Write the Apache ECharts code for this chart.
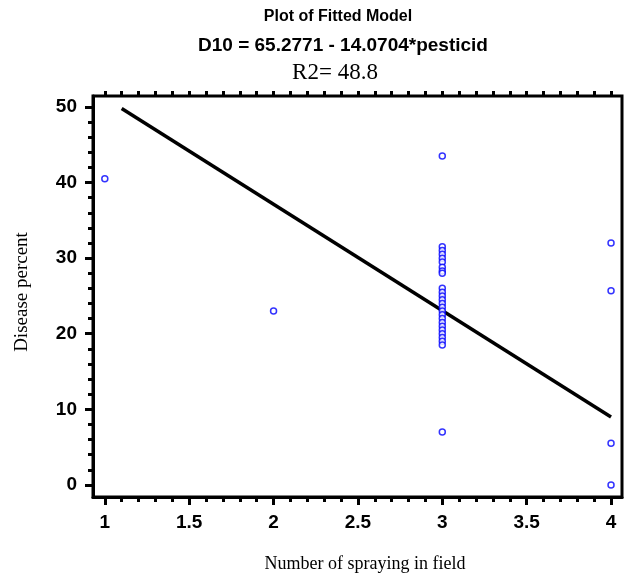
<!DOCTYPE html>
<html><head><meta charset="utf-8">
<script src="https://cdn.jsdelivr.net/npm/echarts@6/dist/echarts.min.js"></script>
<style>html,body{margin:0;padding:0;background:#fff}#c{width:627px;height:579px}</style>
</head><body><div id="c"></div>
<script>
// Observed data: [spraying count, disease percent]
const sprayX1 = [1];
const disease1 = [40.5];
const sprayX2 = [2];
const disease2 = [23];
const disease3 = [43.5, 31.5, 31, 30.5, 30, 29.5, 28.8, 28.3, 28, 26, 25.5, 25, 24.5, 24, 23.5, 23, 22.5, 22, 21.5, 21, 20.5, 20, 19.5, 19, 18.5, 7];
const disease4 = [32, 25.7, 5.5, 0];
// Fitted model line endpoints
const fitX = [1.1, 4];
const intercept = 65.2771, slope = -14.0704;
// Tick labels
const xTicks = [1, 1.5, 2, 2.5, 3, 3.5, 4];
const yTicks = [0, 10, 20, 30, 40, 50];

const points = [];
sprayX1.forEach((x,i)=>points.push([x, disease1[i]]));
sprayX2.forEach((x,i)=>points.push([x, disease2[i]]));
disease3.forEach(v=>points.push([3, v]));
disease4.forEach(v=>points.push([4, v]));
const line = fitX.map(x=>[x, intercept + slope*x]);

const xMin = 0.93, xMax = 4.065, yMin = -1.6, yMax = 51.45;
const xMinor = [], yMinor = [];
for (let k = 10; k <= 40; k++) { if (k % 5) xMinor.push(k/10); }
const xTop = []; for (let k = 10; k <= 40; k++) xTop.push(k/10);
for (let k = 0; k <= 50; k += 2) { if (k % 10) yMinor.push(k); }

const sans = 'Liberation Sans', serif = 'Liberation Serif';
const chart = echarts.init(document.getElementById('c'), null, {renderer:'canvas'});
const hidden = {show:false};
chart.setOption({
  animation:false,
  backgroundColor:'#fff',
  grid:{left:93, top:96, right:5, bottom:82, show:true, borderColor:'#000', borderWidth:3, backgroundColor:'transparent'},
  graphic:[
    {type:'text', style:{x:338, y:9, text:'Plot of Fitted Model', font:'bold 16px '+sans, fill:'#000', textAlign:'center', textVerticalAlign:'top'}},
    {type:'text', style:{x:343, y:36, text:'D10 = 65.2771 - 14.0704*pesticid', font:'bold 19px '+sans, fill:'#000', textAlign:'center', textVerticalAlign:'top'}},
    {type:'text', style:{x:335, y:61, text:'R2= 48.8', font:'23px '+serif, fill:'#000', textAlign:'center', textVerticalAlign:'top'}},
    {type:'text', style:{x:365, y:555, text:'Number of spraying in field', font:'18px '+serif, fill:'#000', textAlign:'center', textVerticalAlign:'top'}},
    {type:'text', rotation:Math.PI/2, x:22, y:292, style:{x:0, y:0, text:'Disease percent', font:'19px '+serif, fill:'#000', textAlign:'center', textVerticalAlign:'middle'}}
  ],
  xAxis:[
    {type:'value', position:'bottom', min:xMin, max:xMax,
     axisLine:{show:true, onZero:false, lineStyle:{color:'#000', width:3}},
     axisTick:{show:true, customValues:xTicks, length:8, lineStyle:{color:'#000', width:3}},
     axisLabel:{show:true, customValues:xTicks, margin:16, color:'#000', fontFamily:sans, fontWeight:'bold', fontSize:19},
     splitLine:hidden},
    {type:'value', position:'bottom', min:xMin, max:xMax,
     axisLine:{show:false, onZero:false}, axisTick:{show:true, customValues:xMinor, length:5, lineStyle:{color:'#000', width:3}},
     axisLabel:hidden, splitLine:hidden},
    {type:'value', position:'top', min:xMin, max:xMax,
     axisLine:{show:false, onZero:false}, axisTick:{show:true, customValues:xTop, length:5, lineStyle:{color:'#000', width:3}},
     axisLabel:hidden, splitLine:hidden}
  ],
  yAxis:[
    {type:'value', position:'left', min:yMin, max:yMax,
     axisLine:{show:true, onZero:false, lineStyle:{color:'#000', width:3}},
     axisTick:{show:true, customValues:yTicks, length:8, lineStyle:{color:'#000', width:3}},
     axisLabel:{show:true, customValues:yTicks, margin:16, color:'#000', fontFamily:sans, fontWeight:'bold', fontSize:19},
     splitLine:hidden},
    {type:'value', position:'left', min:yMin, max:yMax,
     axisLine:{show:false, onZero:false}, axisTick:{show:true, customValues:yMinor, length:5, lineStyle:{color:'#000', width:3}},
     axisLabel:hidden, splitLine:hidden}
  ],
  series:[
    {type:'line', data:line, xAxisIndex:0, yAxisIndex:0, symbol:'none', lineStyle:{color:'#000', width:3.5}, z:3},
    {type:'scatter', data:points, xAxisIndex:0, yAxisIndex:0, symbol:'circle', symbolSize:6,
     itemStyle:{color:'#fff', borderColor:'#0000ff', borderWidth:1.5}, z:4}
  ]
});
</script></body></html>
